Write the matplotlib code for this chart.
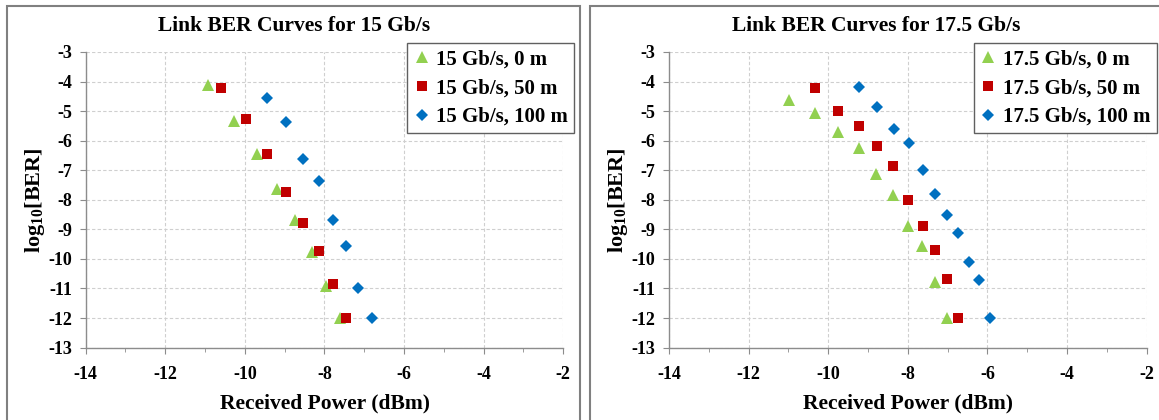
import matplotlib
matplotlib.use("Agg")
import matplotlib.pyplot as plt
from matplotlib.patches import Rectangle
from matplotlib.ticker import MultipleLocator

# received power (dBm) and log10(BER) per link length
power_15_0m = [-10.92, -10.27, -9.69, -9.19, -8.74, -8.32, -7.95, -7.60]
ber_15_0m = [-4.10, -5.35, -6.45, -7.65, -8.70, -9.78, -10.90, -12.00]
power_15_50m = [-10.59, -9.97, -9.44, -8.97, -8.53, -8.13, -7.79, -7.45]
ber_15_50m = [-4.22, -5.27, -6.46, -7.75, -8.80, -9.72, -10.84, -12.00]
power_15_100m = [-9.44, -8.97, -8.53, -8.14, -7.78, -7.45, -7.15, -6.81]
ber_15_100m = [-4.57, -5.37, -6.63, -7.37, -8.68, -9.56, -11.00, -12.00]

power_175_0m = [-10.99, -10.33, -9.75, -9.23, -8.79, -8.37, -8.00, -7.64, -7.32, -7.02]
ber_175_0m = [-4.62, -5.07, -5.70, -6.25, -7.12, -7.83, -8.87, -9.56, -10.78, -12.00]
power_175_50m = [-10.33, -9.75, -9.23, -8.78, -8.37, -8.00, -7.63, -7.32, -7.02, -6.74]
ber_175_50m = [-4.22, -5.01, -5.51, -6.19, -6.87, -7.99, -8.87, -9.70, -10.68, -12.00]
power_175_100m = [-9.22, -8.77, -8.36, -7.98, -7.63, -7.32, -7.01, -6.73, -6.47, -6.22, -5.94]
ber_175_100m = [-4.19, -4.86, -5.60, -6.09, -7.00, -7.82, -8.50, -9.13, -10.10, -10.73, -12.00]

panels = [
    ("15", [(power_15_0m, ber_15_0m), (power_15_50m, ber_15_50m), (power_15_100m, ber_15_100m)]),
    ("17.5", [(power_175_0m, ber_175_0m), (power_175_50m, ber_175_50m), (power_175_100m, ber_175_100m)]),
]
lengths = ["0 m", "50 m", "100 m"]
markers = [("^", "#92D050", 8.5), ("s", "#C00000", 7.0), ("D", "#0070C0", 6.3)]

FONT = "Liberation Serif"
plt.rcParams["font.family"] = FONT
plt.rcParams["font.weight"] = "bold"
plt.rcParams["axes.labelweight"] = "bold"
plt.rcParams["mathtext.fontset"] = "custom"
plt.rcParams["mathtext.rm"] = "Liberation Serif:bold"
plt.rcParams["mathtext.it"] = "Liberation Serif:bold"
plt.rcParams["mathtext.bf"] = "Liberation Serif:bold"

W, H = 1159, 420
fig = plt.figure(figsize=(W / 100, H / 100), dpi=100)


def px_box(x0, y0, x1, y1):
    return [x0 / W, 1 - y1 / H, (x1 - x0) / W, (y1 - y0) / H]


# panel frames: (frame left, frame right, axes left, axes right, legend right)
layout = [
    (7.3, 580.0, 85.7, 563.3, 574.3),
    (590.0, 1166.0, 669.0, 1146.7, 1156.7),
]

for (rate, series), (fl, fr, al, ar, lr) in zip(panels, layout):
    fig.patches.append(Rectangle((fl / W, -0.05), (fr - fl) / W, 1.05 - 6.5 / H,
                                 transform=fig.transFigure, fill=False,
                                 edgecolor="#808080", linewidth=1.5))
    ax = fig.add_axes(px_box(al, 52.0, ar, 347.6))
    for (x, y), (mk, color, size), length in zip(series, markers, lengths):
        ax.plot(x, y, linestyle="none", marker=mk, color=color, markersize=size,
                markeredgewidth=0, label=f"{rate} Gb/s, {length}")
    ax.set_xlim(-14, -2)
    ax.set_ylim(-13, -3)
    ax.xaxis.set_major_locator(MultipleLocator(2))
    ax.xaxis.set_minor_locator(MultipleLocator(1))
    ax.yaxis.set_major_locator(MultipleLocator(1))
    ax.grid(True, which="major", color="#CFCFCF", linestyle=(0, (3, 2)), linewidth=0.8)
    ax.set_axisbelow(True)
    for side in ("top", "right"):
        ax.spines[side].set_visible(False)
    for side in ("left", "bottom"):
        ax.spines[side].set_color("#8C8C8C")
        ax.spines[side].set_linewidth(1.0)
    ax.tick_params(axis="both", which="major", direction="out", length=4,
                   color="#8C8C8C", labelsize=13)
    ax.tick_params(axis="x", which="major", pad=9)
    ax.tick_params(axis="y", which="major", pad=6)
    ax.tick_params(axis="x", which="minor", direction="out", length=3, color="#8C8C8C")
    ax.set_xticklabels([f"{int(v)}" for v in ax.get_xticks()])
    ax.set_yticklabels([f"{int(v)}" for v in ax.get_yticks()])
    ax.set_xlabel("Received Power (dBm)", fontsize=15.5, fontweight="bold", labelpad=8)
    ax.set_ylabel("log$_{10}$[BER]", fontsize=16, fontweight="bold", labelpad=1)
    fig.text((fl + min(fr, 1163)) / 2 / W, 1 - 26 / H,
             f"Link BER Curves for {rate} Gb/s", ha="center", va="center",
             fontsize=15.5, fontweight="bold")
    ax.legend(loc="upper right", bbox_to_anchor=(lr / W, 1 - 43.3 / H),
              bbox_transform=fig.transFigure, prop={"size": 15, "weight": "bold"},
              frameon=True, fancybox=False, edgecolor="#606060", framealpha=1,
              borderaxespad=0, borderpad=0.3, labelspacing=0.42,
              handlelength=0.8, handletextpad=0.3, numpoints=1)

fig.savefig("out.png", dpi=100)
